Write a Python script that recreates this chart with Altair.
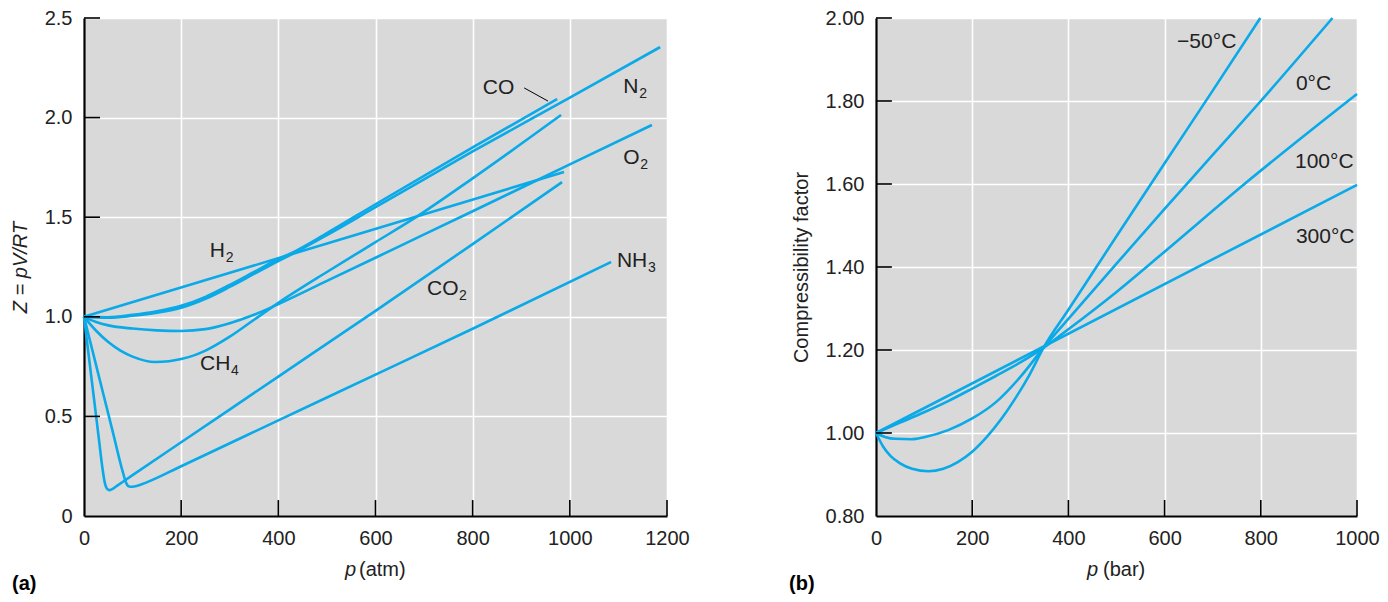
import altair as alt
import pandas as pd

BLUE = "#0aa9e8"
FONT = "Liberation Sans"
TXT = "#222222"

# ---------------- panel (a): Z vs p (atm) ----------------
H2_P = [0, 988]
H2_Z = [1.0, 1.727]
N2_P = [0, 50, 100, 150, 200, 250, 300, 350, 400, 431, 500, 600, 800, 1000, 1186]
N2_Z = [1.0, 0.995, 1.005, 1.02, 1.045, 1.09, 1.15, 1.215, 1.28, 1.318, 1.41, 1.55, 1.83, 2.10, 2.354]
CO_P = [0, 50, 100, 150, 200, 250, 300, 350, 400, 431, 500, 600, 800, 974]
CO_Z = [1.0, 0.998, 1.01, 1.028, 1.055, 1.10, 1.16, 1.225, 1.29, 1.325, 1.42, 1.565, 1.85, 2.093]
O2_P = [0, 25, 50, 100, 150, 200, 250, 300, 350, 397, 500, 650, 800, 1000, 1169]
O2_Z = [1.0, 0.974, 0.957, 0.941, 0.932, 0.929, 0.938, 0.968, 1.01, 1.06, 1.18, 1.355, 1.53, 1.765, 1.963]
CH4_P = [0, 25, 50, 75, 100, 146, 175, 200, 225, 250, 300, 350, 400, 500, 600, 677, 800, 982]
CH4_Z = [1.0, 0.93, 0.873, 0.83, 0.8, 0.773, 0.777, 0.788, 0.805, 0.83, 0.9, 0.985, 1.07, 1.225, 1.375, 1.49, 1.695, 2.013]
CO2_P = [0, 10, 20, 30, 38, 43, 47, 52, 58, 70, 100, 200, 400, 600, 800, 984]
CO2_Z = [1.0, 0.80, 0.60, 0.40, 0.24, 0.165, 0.138, 0.13, 0.135, 0.155, 0.205, 0.37, 0.70, 1.03, 1.365, 1.676]
NH3_P = [0, 20, 40, 60, 80, 87, 93, 100, 110, 130, 200, 400, 600, 800, 1085]
NH3_Z = [1.0, 0.805, 0.61, 0.415, 0.22, 0.165, 0.148, 0.147, 0.152, 0.17, 0.25, 0.48, 0.71, 0.94, 1.275]

# labels for panel (a): main text, subscript, left-edge p, centre Z, subscript dx
A_MAIN = ["CO", "N", "O", "NH", "CO", "H", "CH"]
A_SUB = ["", "2", "2", "3", "2", "2", "4"]
A_P = [821, 1110, 1110, 1097, 706, 259, 239]
A_Z = [2.149, 2.156, 1.795, 1.278, 1.14, 1.328, 0.763]
A_DX = [0, 15, 16, 30, 31, 15, 30]
CO_LEADER_P = [906, 955]
CO_LEADER_Z = [2.149, 2.083]

# ---------------- panel (b): compressibility factor vs p (bar) ----------------
M50_P = [0, 15, 30, 50, 75, 109, 140, 170, 200, 230, 260, 290, 320, 348, 400, 500, 600, 700, 799]
M50_Z = [1.0, 0.967, 0.945, 0.927, 0.914, 0.908, 0.914, 0.93, 0.955, 0.99, 1.033, 1.084, 1.142, 1.205, 1.297, 1.474, 1.65, 1.825, 2.0]
C0_P = [0, 20, 40, 74, 100, 150, 200, 250, 300, 348, 400, 500, 600, 700, 800, 949]
C0_Z = [1.0, 0.99, 0.986, 0.985, 0.99, 1.007, 1.035, 1.075, 1.135, 1.205, 1.275, 1.408, 1.54, 1.67, 1.80, 2.0]
C100_P = [0, 50, 100, 150, 200, 250, 300, 348, 400, 500, 600, 766, 1000]
C100_Z = [1.0, 1.025, 1.05, 1.077, 1.107, 1.138, 1.17, 1.205, 1.25, 1.34, 1.437, 1.6, 1.817]
C300_P = [0, 1000]
C300_Z = [1.0, 1.598]

B_TEXT = ["\u221250\u00b0C", "0\u00b0C", "100\u00b0C", "300\u00b0C"]
B_P = [626, 873, 871, 873]
B_Z = [1.941, 1.841, 1.652, 1.473]

A_XTICKS = [0, 200, 400, 600, 800, 1000, 1200]
A_YTICKS = [0, 0.5, 1.0, 1.5, 2.0, 2.5]
B_XTICKS = [0, 200, 400, 600, 800, 1000]
B_YTICKS = [0.8, 1.0, 1.2, 1.4, 1.6, 1.8, 2.0]

W1, W2, H = 583, 481, 498
FS = 20
FS_ANN = 21


def curves(named):
    rows = []
    for name, (ps, zs) in named.items():
        for p, z in zip(ps, zs):
            rows.append({"gas": name, "p": p, "Z": z})
    return pd.DataFrame(rows)


dfA = curves({"H2": (H2_P, H2_Z), "N2": (N2_P, N2_Z), "CO": (CO_P, CO_Z), "O2": (O2_P, O2_Z),
              "CH4": (CH4_P, CH4_Z), "CO2": (CO2_P, CO2_Z), "NH3": (NH3_P, NH3_Z)})
dfB = curves({"-50": (M50_P, M50_Z), "0": (C0_P, C0_Z), "100": (C100_P, C100_Z), "300": (C300_P, C300_Z)})


def one():
    return alt.Chart(pd.DataFrame({"a": [0]}))


def panel(df, xdom, ydom, xt, yt, ylabexpr, ytitle, ytitle_style, xtitle_unit, p_right, unit_left, tag, tag_x,
          xtick_len, ytick_len):
    xs = alt.Scale(domain=xdom, nice=False, zero=False)
    ys = alt.Scale(domain=ydom, nice=False, zero=False)
    lines = alt.Chart(df).mark_line(color=BLUE, strokeWidth=2.6, interpolate="monotone").encode(
        x=alt.X("p:Q", scale=xs,
                axis=alt.Axis(values=xt, title=None, grid=True, ticks=False, labelPadding=12,
                              format="d", labelFlush=False)),
        y=alt.Y("Z:Q", scale=ys,
                axis=alt.Axis(values=yt, title=ytitle, grid=True, ticks=False, labelPadding=12,
                              labelExpr=ylabexpr, titleFontStyle=ytitle_style, titlePadding=14,
                              labelFlush=False)),
        detail="gas:N",
    )
    xtk = alt.Chart(pd.DataFrame({"p": xt[1:]})).mark_rule(color="black", strokeWidth=1.6).encode(
        x=alt.X("p:Q", scale=xs), y=alt.datum(ydom[0]), y2=alt.datum(ydom[0] + ytick_len))
    ytk = alt.Chart(pd.DataFrame({"Z": yt[1:]})).mark_rule(color="black", strokeWidth=1.6).encode(
        y=alt.Y("Z:Q", scale=ys), x=alt.datum(xdom[0]), x2=alt.datum(xdom[0] + xtick_len))
    t_p = one().mark_text(text="p", fontStyle="italic", align="right", baseline="middle", fontSize=FS,
                          font=FONT, color=TXT).encode(x=alt.value(p_right), y=alt.value(H + 54))
    t_u = one().mark_text(text=xtitle_unit, align="left", baseline="middle", fontSize=FS,
                          font=FONT, color=TXT).encode(x=alt.value(unit_left), y=alt.value(H + 54))
    t_tag = one().mark_text(text=tag, fontWeight="bold", align="left", baseline="middle", fontSize=FS,
                            font=FONT, color="black").encode(x=alt.value(tag_x), y=alt.value(H + 68))
    return [lines, xtk, ytk, t_p, t_u, t_tag], xs, ys


layersA, xsA, ysA = panel(dfA, [0, 1200], [0, 2.5], A_XTICKS, A_YTICKS,
                          "datum.value == 0 ? '0' : format(datum.value, '.1f')", "Z = pV/RT", "italic",
                          "(atm)", 272, 275, "(a)", -72, 33, 0.08)

labA = pd.DataFrame({"m": A_MAIN, "s": A_SUB, "p": A_P, "Z": A_Z, "dx": A_DX})
for i, r in labA.iterrows():
    d = pd.DataFrame([r])
    layersA.append(alt.Chart(d).mark_text(align="left", baseline="middle", fontSize=FS_ANN, font=FONT, color=TXT)
                   .encode(x=alt.X("p:Q", scale=xsA), y=alt.Y("Z:Q", scale=ysA), text="m:N"))
    if r["s"]:
        layersA.append(alt.Chart(d).mark_text(align="left", baseline="middle", fontSize=14, font=FONT,
                                              color=TXT, dx=int(r["dx"]) + 1, dy=7)
                       .encode(x=alt.X("p:Q", scale=xsA), y=alt.Y("Z:Q", scale=ysA), text="s:N"))

leader = alt.Chart(pd.DataFrame({"p": [CO_LEADER_P[0]], "p2": [CO_LEADER_P[1]],
                                 "Z": [CO_LEADER_Z[0]], "Z2": [CO_LEADER_Z[1]]})).mark_rule(
    color="black", strokeWidth=1).encode(x=alt.X("p:Q", scale=xsA), x2="p2:Q", y=alt.Y("Z:Q", scale=ysA), y2="Z2:Q")
layersA.append(leader)

left = alt.layer(*layersA).properties(width=W1, height=H)

layersB, xsB, ysB = panel(dfB, [0, 1000], [0.8, 2.0], B_XTICKS, B_YTICKS,
                          "format(datum.value, '.2f')", "Compressibility factor", "normal",
                          "(bar)", 222, 227, "(b)", -87, 33, 0.0386)
labB = pd.DataFrame({"t": B_TEXT, "p": B_P, "Z": B_Z})
layersB.append(alt.Chart(labB).mark_text(align="left", baseline="middle", fontSize=FS_ANN, font=FONT, color=TXT)
               .encode(x=alt.X("p:Q", scale=xsB), y=alt.Y("Z:Q", scale=ysB), text="t:N"))
right = alt.layer(*layersB).properties(width=W2, height=H)

chart = alt.hconcat(left, right, spacing=209, bounds="flush").properties(
    padding={"left": 2, "top": 0, "right": 0, "bottom": 0}
).configure_view(fill="#d9d9d9", stroke=None).configure_axis(
    labelFont=FONT, titleFont=FONT, labelFontSize=FS, titleFontSize=FS, labelColor=TXT, titleColor=TXT,
    titleFontWeight="normal", gridColor="white", gridWidth=1.6, domainColor="black", domainWidth=2.2,
    gridOpacity=1
)

chart.save("out.html", embed_options={"renderer": "svg", "actions": False})
